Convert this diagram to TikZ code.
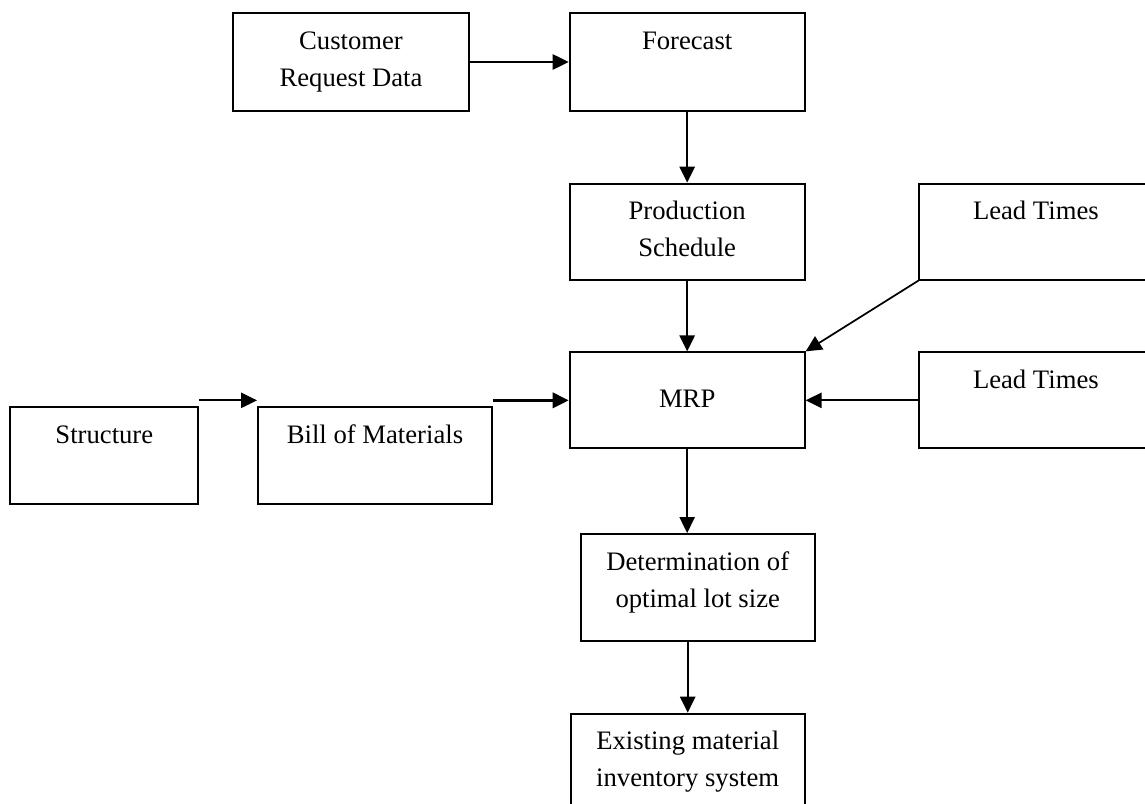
\documentclass[tikz,border=0pt]{standalone}
\usepackage{fontspec}
\setmainfont{Liberation Serif}
\usetikzlibrary{positioning, arrows.meta}
\tikzset {
    >={Triangle[length=12pt, width=11.5pt]},
    blk/.style={draw, line width=1.5pt, inner sep=0pt, font=\fontsize{20}{27.75}\selectfont},
    flow/.style={->, line width=1.3pt}
}
\newcommand{\boxtxt}[4][27pt]{\parbox[c][#3][t]{#2}{\centering\rule{0pt}{#1}#4\par}}

\begin{document}
\begin{tikzpicture}[x=0.75pt, y=-0.75pt]
    \useasboundingbox (0,0) rectangle (1145,803);
    \node[blk, anchor=north west] (cust) at (232,12) {\boxtxt{177pt}{73.5pt}{Customer\\Request Data}};
    \node[blk, right=74pt of cust] (fcst) {\boxtxt{176.25pt}{73.5pt}{Forecast}};
    \node[blk, below=53pt of fcst] (prod) {\boxtxt{176.25pt}{72pt}{Production\\Schedule}};
    \node[blk, below=53pt of prod] (mrp) {\boxtxt[41pt]{176.25pt}{72pt}{MRP}};
    \node[blk, right=84.5pt of prod] (leadA) {\boxtxt{174.75pt}{72pt}{Lead Times}};
    \node[blk, right=84.5pt of mrp] (leadB) {\boxtxt{174.75pt}{72pt}{Lead Times}};
    \node[blk, left=56.75pt of mrp, yshift=-41.6pt] (bom) {\boxtxt{175.5pt}{72.75pt}{Bill of Materials}};
    \node[blk, left=43.25pt of bom] (struc) {\boxtxt{141pt}{72.75pt}{Structure}};
    \node[blk, below=62.75pt of mrp, xshift=7.9pt] (lot) {\boxtxt{175.5pt}{80.25pt}{Determination of\\optimal lot size}};
    \node[blk, below=53pt of lot, xshift=-7.5pt] (inv) {\boxtxt{175.5pt}{82.5pt}{Existing material\\inventory system}};

    \draw[flow] (cust) -- (fcst);
    \draw[flow] (fcst) -- (prod);
    \draw[flow] (prod) -- (mrp);
    \draw[flow] (leadA.south west) -- (mrp.north east);
    \draw[flow] (leadB) -- (mrp);
    \draw[flow, line width=2pt] (bom.east |- mrp.west) -- (mrp.west);
    \draw[flow] (struc.east |- mrp.west) -- (bom.west |- mrp.west);
    \draw[flow] (mrp.south) -- (mrp.south |- lot.north);
    \draw[flow] (inv.north |- lot.south) -- (inv.north);
\end{tikzpicture}
\end{document}
